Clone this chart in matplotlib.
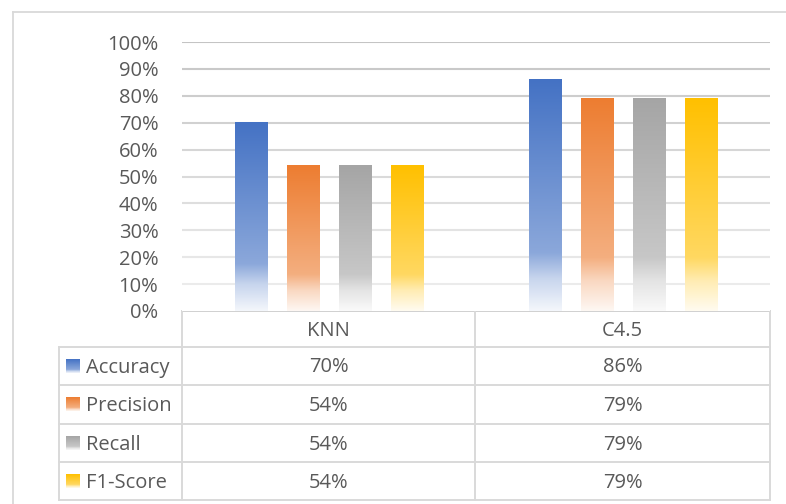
import numpy as np
import matplotlib
matplotlib.use("Agg")
import matplotlib.pyplot as plt
from matplotlib.colors import to_rgb

plt.rcParams['font.family'] = ['Open Sans', 'DejaVu Sans']

########

models = ["KNN", "C4.5"]
metrics = ["Accuracy", "Precision", "Recall", "F1-Score"]
accuracy = [0.70, 0.86]
precision = [0.54, 0.79]
recall = [0.54, 0.79]
f1_score = [0.54, 0.79]
values = [accuracy, precision, recall, f1_score]

colors = ["#4472C4", "#ED7D31", "#A5A5A5", "#FFC000"]
text_col = "#595959"
line_col = "#D9D9D9"
fs = 14.5

W, H = 786, 504

########

def gradient(color, n=200):
    # solid at top, lighter downwards, nearly white at the bottom
    t = np.linspace(0, 1, n)
    a = np.interp(t, [0, 0.75, 0.86, 1.0], [1.0, 0.62, 0.30, 0.06])
    rgb = np.array(to_rgb(color))
    img = 1 - a[:, None] * (1 - rgb[None, :])
    return img[:, None, :]

def px(x0, y0, x1, y1):
    return [x0 / W, 1 - y1 / H, (x1 - x0) / W, (y1 - y0) / H]

fig = plt.figure(figsize=(W / 100, H / 100), dpi=100)

# overlay in pixel coords for the frame and the data table
tab = fig.add_axes([0, 0, 1, 1])
tab.set_xlim(0, W)
tab.set_ylim(H, 0)
tab.axis("off")

ax = fig.add_axes(px(182, 42, 770, 311))
ax.set_xlim(-0.5, len(models) - 0.5)
ax.set_ylim(0, 1.0)

yt = np.arange(0, 1.01, 0.1)
for v in yt[1:]:
    c = 0.77 + (1 - v) * 0.17
    ax.axhline(v, color=(c, c, c), lw=1.5, zorder=0)

ax.set_yticks(yt)
ax.set_yticklabels([f"{int(round(v * 100))}%" for v in yt], color=text_col, fontsize=fs)
ax.tick_params(axis="y", length=0, pad=17)
ax.set_xticks([])
for s in ax.spines.values():
    s.set_visible(False)

width = 0.109
step = 0.177
for i, (vals, col) in enumerate(zip(values, colors)):
    off = (i - 1.5) * step
    for j, v in enumerate(vals):
        x0 = j + off - width / 2
        ax.imshow(gradient(col), extent=[x0, x0 + width, 0, v], aspect="auto",
                  interpolation="bilinear", zorder=2)
ax.set_xlim(-0.5, len(models) - 0.5)
ax.set_ylim(0, 1.0)
ax.set_aspect("auto")

# outer chart frame
tab.plot([13, W], [12, 12], color=line_col, lw=1.3)
tab.plot([13, 13], [12, H], color=line_col, lw=1.3)

# data table
cols = [59, 182, 475, 770]
rows = [311, 347, 385, 424, 462, 500]
lw = 1.4
dy = 1.5
tab.plot([cols[1], cols[3]], [rows[0], rows[0]], color="#D0D0D0", lw=lw)
for r in rows[1:]:
    tab.plot([cols[0], cols[3]], [r, r], color=line_col, lw=lw)
tab.plot([cols[0], cols[0]], [rows[1], rows[-1]], color=line_col, lw=lw)
for c in cols[1:]:
    tab.plot([c, c], [rows[0], rows[-1]], color=line_col, lw=lw)

for j, m in enumerate(models):
    xc = (cols[j + 1] + cols[j + 2]) / 2
    tab.text(xc, (rows[0] + rows[1]) / 2 + dy, m, ha="center", va="center",
             color=text_col, fontsize=fs)

for i, (name, vals, col) in enumerate(zip(metrics, values, colors)):
    yc = (rows[i + 1] + rows[i + 2]) / 2
    tab.imshow(gradient(col), extent=[66, 80, yc + 7, yc - 7], aspect="auto",
               interpolation="bilinear")
    tab.text(86, yc + dy, name, ha="left", va="center", color=text_col, fontsize=fs)
    for j, v in enumerate(vals):
        xc = (cols[j + 1] + cols[j + 2]) / 2
        tab.text(xc, yc + dy, f"{int(round(v * 100))}%", ha="center", va="center",
                 color=text_col, fontsize=fs)
tab.set_xlim(0, W)
tab.set_ylim(H, 0)
tab.set_aspect("auto")

fig.savefig("out.png", dpi=100)
